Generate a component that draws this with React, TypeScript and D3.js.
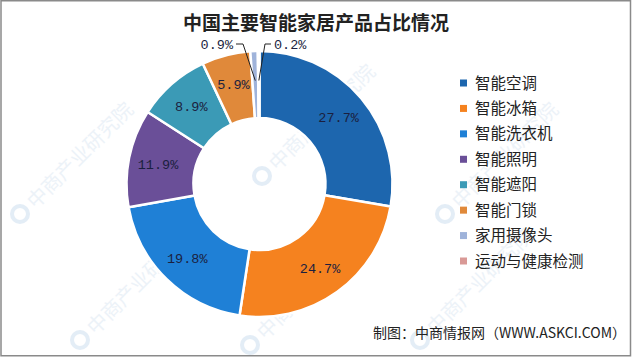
import React from "react";
import * as d3 from "d3";

const categories = ["智能空调", "智能冰箱", "智能洗衣机", "智能照明", "智能遮阳", "智能门锁", "家用摄像头", "运动与健康检测"];
const shares = [27.7, 24.7, 19.8, 11.9, 8.9, 5.9, 0.9, 0.2];
const colors = ["#1d66ae", "#f5821f", "#1f80d6", "#6a4f98", "#3b9ab6", "#e0893a", "#9fb3da", "#d99996"];
const title = "中国主要智能家居产品占比情况";
const source = "制图：中商情报网（WWW.ASKCI.COM）";
const watermarkText = "中商产业研究院";

const W = 640;
const H = 358;
const cx = 259.5;
const cy = 184;
const rOuter = 133;
const rInner = 66;

export default function App() {
  const pie = d3.pie<number>().sort(null).value((d) => d).startAngle(0).endAngle(2 * Math.PI);
  const arcs = pie(shares);
  const arc = d3.arc<d3.PieArcDatum<number>>().innerRadius(rInner).outerRadius(rOuter);
  const labelArc = d3.arc<d3.PieArcDatum<number>>().innerRadius(rInner + 5).outerRadius(rOuter + 3);
  const mono = "'Liberation Mono', 'DejaVu Sans Mono', monospace";
  const cjk = "'Noto Sans CJK SC', 'Noto Sans', sans-serif";

  const legendY = d3.scaleLinear().domain([0, categories.length - 1]).range([83, 261]);

  const wm: [number, number][] = [
    [262, 176], [20, 214], [445, 214], [80, 340], [250, 345], [420, 340],
  ];

  return (
    <div style={{ position: "absolute", left: 0, top: 0 }}>
      <svg width={W} height={H} style={{ display: "block", background: "#fff" }}>
        <g>
          {wm.map(([x, y], i) => (
            <g key={i} transform={`translate(${x},${y}) rotate(-45)`} opacity={0.5}>
              <circle cx={0} cy={0} r={8} fill="none" stroke="#c9dcef" strokeWidth={4} />
              <text x={14} y={8} fontFamily={cjk} fontSize={20} fill="#dbe7f3">{watermarkText}</text>
            </g>
          ))}
        </g>
        <rect x={1} y={0.75} width={629.5} height={355} fill="none" stroke="#8a8a8a" strokeWidth={1.5} />
        <text x={316} y={30} textAnchor="middle" fontFamily={cjk} fontWeight="bold" fontSize={19} fill="#222">{title}</text>
        <g transform={`translate(${cx},${cy})`}>
          {arcs.map((a, i) => (
            <path key={i} d={arc(a) || ""} fill={colors[i]} stroke="#fff" strokeWidth={2.5} strokeLinejoin="round" />
          ))}
          {arcs.map((a, i) => {
            if (shares[i] < 2) return null;
            const [x, y] = labelArc.centroid(a);
            return (
              <text key={"l" + i} x={x} y={y + 5} textAnchor="middle" fontFamily={mono} fontSize={13.5} fill="#1b1f3f">
                {shares[i].toFixed(1) + "%"}
              </text>
            );
          })}
          {arcs.map((a, i) => {
            if (shares[i] >= 2) return null;
            const [x, y] = labelArc.centroid(a);
            const left = i === shares.length - 2;
            const ky = 44 - cy;
            const kx = left ? 243 - cx : 265 - cx;
            const ex = left ? 236 - cx : 271 - cx;
            return (
              <g key={"s" + i}>
                <polyline points={`${x},${y} ${kx},${ky} ${ex},${ky}`} fill="none" stroke="#222" strokeWidth={1} />
                <text x={left ? ex - 3 : ex + 3} y={ky + 5} textAnchor={left ? "end" : "start"} fontFamily={mono} fontSize={13.5} fill="#1b1f3f">
                  {shares[i].toFixed(1) + "%"}
                </text>
              </g>
            );
          })}
        </g>
        <g>
          {categories.map((c, i) => (
            <g key={c} transform={`translate(460,${legendY(i)})`}>
              <rect x={0} y={-3.5} width={7} height={7} fill={colors[i]} />
              <text x={15} y={5.5} fontFamily={cjk} fontSize={15.5} fill="#222">{c}</text>
            </g>
          ))}
        </g>
        <text x={626} y={338} textAnchor="end" fontFamily={cjk} fontSize={14} fill="#222">{source}</text>
      </svg>
    </div>
  );
}
